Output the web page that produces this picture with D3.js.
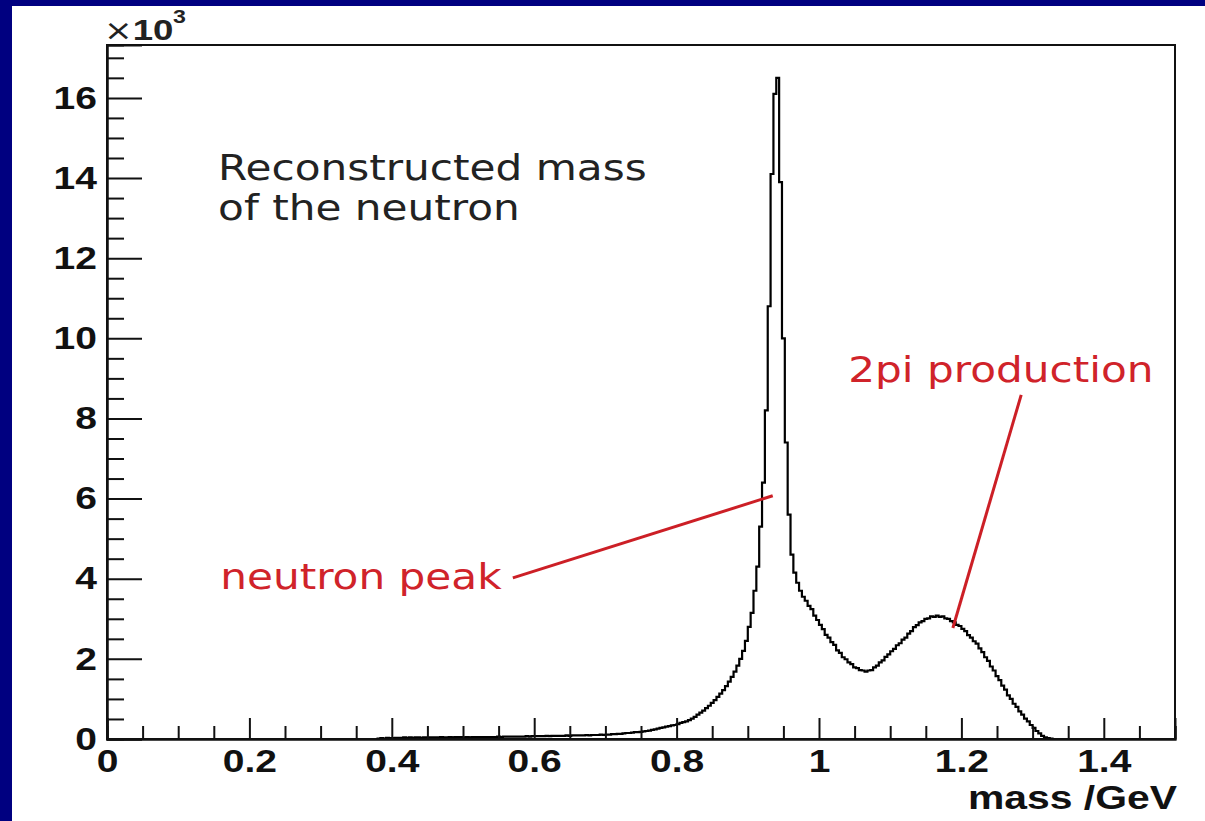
<!DOCTYPE html>
<html><head><meta charset="utf-8">
<script src="https://cdn.jsdelivr.net/npm/d3@7"></script>
<style>body{margin:0;background:#000080;} svg{display:block}</style>
</head><body><svg id="c" width="1205" height="821"></svg>
<script>
// ---------------- data ----------------
const binStart = 0.38;      // GeV, lower edge of first bin
const binWidth = 0.004;     // GeV
// counts per bin, in units of 10^3
const counts = [
 0.01,0.02,0.01,0.03,0.02,0.02,0.03,0.03,0.03,0.04,
 0.03,0.04,0.03,0.04,0.04,0.03,0.04,0.04,0.04,0.04,
 0.04,0.04,0.05,0.04,0.04,0.05,0.04,0.05,0.05,0.05,
 0.04,0.05,0.04,0.05,0.05,0.05,0.05,0.05,0.05,0.05,
 0.05,0.05,0.06,0.05,0.06,0.06,0.06,0.06,0.06,0.06,
 0.06,0.06,0.07,0.06,0.07,0.07,0.07,0.07,0.07,0.08,
 0.07,0.08,0.08,0.08,0.08,0.08,0.09,0.08,0.09,0.09,
 0.09,0.09,0.09,0.10,0.09,0.10,0.10,0.10,0.11,0.10,
 0.11,0.11,0.12,0.12,0.13,0.13,0.14,0.15,0.15,0.16,
 0.17,0.17,0.18,0.19,0.20,0.21,0.23,0.24,0.26,0.28,
 0.29,0.31,0.32,0.34,0.35,0.37,0.40,0.42,0.44,0.47,
 0.51,0.55,0.61,0.66,0.71,0.77,0.83,0.90,0.97,1.05,
 1.13,1.22,1.32,1.43,1.55,1.68,1.83,2.00,2.20,2.45,
 2.80,3.15,3.70,4.30,5.30,6.40,8.20,10.8,
 14.1,16.1,16.5,13.9,10.0,7.4,5.6,4.6,4.15,3.9,3.7,3.55,
 3.45,3.32,3.24,3.08,2.97,2.85,2.74,2.60,2.53,2.42,
 2.35,2.21,2.15,2.04,1.99,1.91,1.87,1.79,1.77,1.72,
 1.71,1.68,1.71,1.72,1.79,1.83,1.91,1.96,2.05,2.11,
 2.19,2.25,2.34,2.39,2.48,2.53,2.63,2.69,2.79,2.84,
 2.91,2.94,3.00,3.01,3.06,3.05,3.08,3.05,3.06,3.01,
 3.00,2.94,2.91,2.85,2.82,2.75,2.69,2.59,2.53,2.44,
 2.38,2.26,2.17,2.04,1.95,1.81,1.71,1.57,1.47,1.33,
 1.23,1.09,1.00,0.88,0.80,0.69,0.61,0.51,0.44,0.35,
 0.28,0.20,0.14,0.08,0.04,0.02,0.01,0.00
];
const xDomain = [0, 1.5];
const yDomain = [0, 17.32];
const xMajorTicks = [0, 0.2, 0.4, 0.6, 0.8, 1, 1.2, 1.4];
const xTickLabels = ["0", "0.2", "0.4", "0.6", "0.8", "1", "1.2", "1.4"];
const yMajorTicks = [0, 2, 4, 6, 8, 10, 12, 14, 16];
const yTickLabels = ["0", "2", "4", "6", "8", "10", "12", "14", "16"];
const xMinorStep = 0.05;
const yMinorStep = 0.5;
const xTitle = "mass /GeV";
const yExponent = "3";
const noteLines = ["Reconstructed mass", "of the neutron"];
// annotations in data coordinates [mass, counts/10^3]
const annotations = [
  {text: "neutron peak",   at: [0.159, 3.74], from: [0.570, 4.02], to: [0.935, 6.07]},
  {text: "2pi production", at: [1.041, 8.91], from: [1.284, 8.59], to: [1.188, 2.77]}
];

// ---------------- layout ----------------
const W = 1205, H = 821;
const M = {left: 107, right: 1175, top: 45, bottom: 739};
const SX = 1.22; // horizontal stretch of the glyphs in the reference
const boldFont = "'Liberation Sans', Arial, Helvetica, sans-serif";
const normFont = "'DejaVu Sans', Verdana, sans-serif";

const svg = d3.select("#c");
svg.append("rect").attr("width", W).attr("height", H).attr("fill", "#000080");
svg.append("rect").attr("x", 12).attr("y", 6).attr("width", W - 12).attr("height", H - 6).attr("fill", "#fff");

const x = d3.scaleLinear().domain(xDomain).range([M.left, M.right]);
const y = d3.scaleLinear().domain(yDomain).range([M.bottom, M.top]);

function addText(px, py, str, o) {
  const g = svg.append("g").attr("transform", `translate(${px},${py}) scale(${SX},1)`);
  const t = g.append("text").text(str)
    .attr("font-family", o.family || boldFont)
    .attr("font-size", o.size)
    .attr("font-weight", o.weight || "normal")
    .attr("fill", o.fill || "#000")
    .attr("text-anchor", o.anchor || "start");
  return t;
}

// frame
svg.append("rect").attr("x", M.left).attr("y", M.top)
  .attr("width", M.right - M.left).attr("height", M.bottom - M.top)
  .attr("fill", "none").attr("stroke", "#111").attr("stroke-width", 2);

// histogram
const pts = [[binStart, 0]];
counts.forEach((c, i) => {
  const e0 = binStart + i * binWidth;
  pts.push([e0, c], [e0 + binWidth, c]);
});
pts.push([binStart + counts.length * binWidth, 0]);
const line = d3.line().x(d => x(d[0])).y(d => y(d[1]));
svg.append("path").attr("d", line(pts)).attr("fill", "none")
  .attr("stroke", "#000").attr("stroke-width", 2.2).attr("stroke-linejoin", "miter");

// x axis
const xMinor = d3.range(0, xDomain[1] + 1e-9, xMinorStep).filter(v => !xMajorTicks.some(t => Math.abs(t - v) < 1e-6));
const gxMinor = svg.append("g").attr("transform", `translate(0,${M.bottom})`)
  .call(d3.axisBottom(x).tickValues(xMinor).tickSize(-13).tickFormat(""));
const gx = svg.append("g").attr("transform", `translate(0,${M.bottom})`)
  .call(d3.axisBottom(x).tickValues(xMajorTicks).tickSize(-21).tickPadding(10)
    .tickFormat((d, i) => xTickLabels[i]));
// y axis
const yMinor = d3.range(0, yDomain[1], yMinorStep).filter(v => !yMajorTicks.some(t => Math.abs(t - v) < 1e-6));
const gyMinor = svg.append("g").attr("transform", `translate(${M.left},0)`)
  .call(d3.axisLeft(y).tickValues(yMinor).tickSize(-17).tickFormat(""));
const gy = svg.append("g").attr("transform", `translate(${M.left},0)`)
  .call(d3.axisLeft(y).tickValues(yMajorTicks).tickSize(-35).tickPadding(10)
    .tickFormat((d, i) => yTickLabels[i]));

[gxMinor, gx, gyMinor, gy].forEach(g => {
  g.select(".domain").attr("stroke", "#111").attr("stroke-width", 2);
  g.selectAll(".tick line").attr("stroke", "#111").attr("stroke-width", 2);
});
[gx, gy].forEach(g => {
  g.selectAll(".tick text").each(function () {
    const t = d3.select(this);
    const xv = +t.attr("x") || 0;
    t.attr("x", xv / SX).attr("transform", `scale(${SX},1)`);
  }).attr("font-family", boldFont).attr("font-size", 32).attr("font-weight", "bold").attr("fill", "#111");
});

// axis title and exponent
addText(M.right + 2, 809, xTitle, {size: 33.5, weight: "bold", anchor: "end", fill: "#111"});
const ex = addText(104, 40, "", {size: 30, weight: "bold", fill: "#222"});
ex.append("tspan").attr("font-family", normFont).attr("font-weight", "normal").attr("font-size", 28).text("\u00d7");
ex.append("tspan").text("10");
addText(173, 23, yExponent, {size: 19, weight: "bold", fill: "#222"});

// text note
noteLines.forEach((s, i) => addText(x(0.156), y(13.95) + i * 40, s, {family: normFont, size: 34.6, fill: "#222"}));

// annotations
annotations.forEach(a => {
  svg.append("line")
    .attr("x1", x(a.from[0])).attr("y1", y(a.from[1]))
    .attr("x2", x(a.to[0])).attr("y2", y(a.to[1]))
    .attr("stroke", "#cc1f26").attr("stroke-width", 3);
  addText(x(a.at[0]), y(a.at[1]), a.text, {family: normFont, size: 34.6, fill: "#d0232a"});
});
</script></body></html>
